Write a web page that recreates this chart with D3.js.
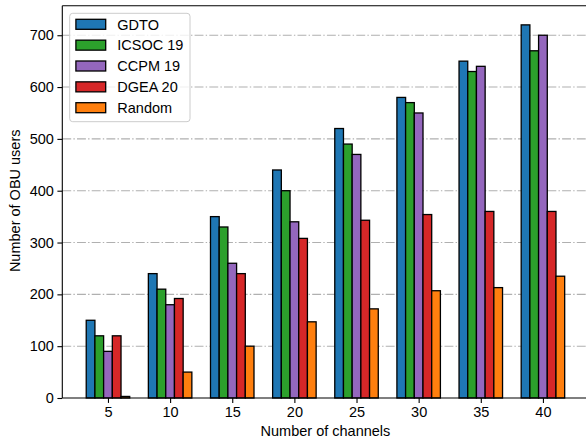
<!DOCTYPE html>
<html><head><meta charset="utf-8">
<script src="https://cdn.jsdelivr.net/npm/d3@7/dist/d3.min.js"></script>
<style>body{margin:0;background:#fff}svg{display:block}text{font-family:"Liberation Sans",Arial,sans-serif;fill:#000}</style>
</head><body>
<script>
const categories = ["5","10","15","20","25","30","35","40"];
const seriesNames = ["GDTO","ICSOC 19","CCPM 19","DGEA 20","Random"];
const gdto   = [150,240,350,440,520,580,650,720];
const icsoc19= [120,210,330,400,490,570,630,670];
const ccpm19 = [90,180,260,340,470,550,640,700];
const dgea20 = [120,192,240,308,343,354,360,360];
const random = [3,50,100,147,172,207,213,235];
const yTicks = [0,100,200,300,400,500,600,700];
const colors = ["#1f77b4","#2ca02c","#9467bd","#d62728","#ff7f0e"];
const series = [gdto,icsoc19,ccpm19,dgea20,random];

const W=586,H=446;
const L=62.3,R=588.6,T=5.7,B=398;
const svg=d3.select("body").append("svg").attr("width",W).attr("height",H);
const bw=0.14;
const x=d3.scaleLinear().domain([-0.735,7.735]).range([L,R]);
const y=d3.scaleLinear().domain([0,757]).range([B,T]);
const fs=14.5;

// grid
svg.append("g").selectAll("line").data(yTicks.filter(d=>d>0)).join("line")
 .attr("x1",L).attr("x2",R).attr("y1",d=>y(d)).attr("y2",d=>y(d))
 .attr("stroke","#b0b0b0").attr("stroke-width",1.1).attr("stroke-dasharray","8.9,2.2,1.4,2.2");

// bars
series.forEach((vals,k)=>{
  svg.append("g").selectAll("rect").data(vals).join("rect")
   .attr("x",(d,i)=>x(i+(k-2)*bw-bw/2))
   .attr("width",x(bw)-x(0))
   .attr("y",d=>y(d)).attr("height",d=>y(0)-y(d))
   .attr("fill",colors[k]).attr("stroke","#000").attr("stroke-width",1.3);
});

// spines
const sp=svg.append("g").attr("stroke","#000").attr("stroke-width",1.1);
sp.append("line").attr("x1",L).attr("x2",L).attr("y1",T).attr("y2",B);
sp.append("line").attr("x1",L).attr("x2",R).attr("y1",B).attr("y2",B);
sp.append("line").attr("x1",L).attr("x2",R).attr("y1",T).attr("y2",T);
sp.append("line").attr("x1",R).attr("x2",R).attr("y1",T).attr("y2",B);

// axes
const xa=d3.axisBottom(x).tickValues(d3.range(categories.length)).tickFormat(i=>categories[i]).tickSize(4.9).tickPadding(3.5);
const gx=svg.append("g").attr("transform",`translate(0,${B})`).call(xa);
gx.select(".domain").remove();
gx.selectAll("text").attr("font-size",fs).style("font-family","Liberation Sans,Arial,sans-serif");
gx.selectAll("line").attr("stroke-width",1.1);
const ya=d3.axisLeft(y).tickValues(yTicks).tickSize(4.9).tickPadding(3.5);
const gy=svg.append("g").attr("transform",`translate(${L},0)`).call(ya);
gy.select(".domain").remove();
gy.selectAll("text").attr("font-size",fs).style("font-family","Liberation Sans,Arial,sans-serif");
gy.selectAll("line").attr("stroke-width",1.1);

// axis labels
svg.append("text").attr("x",(L+R)/2).attr("y",435.8).attr("text-anchor","middle").attr("font-size",fs).text("Number of channels");
svg.append("text").attr("transform",`translate(20.3,200.8) rotate(-90)`).attr("text-anchor","middle").attr("font-size",fs).text("Number of OBU users");

// legend
const lg=svg.append("g");
lg.append("rect").attr("x",69.7).attr("y",13.3).attr("width",120.3).attr("height",108.4).attr("rx",3)
 .attr("fill","#fff").attr("fill-opacity",0.8).attr("stroke","#cccccc").attr("stroke-width",1);
seriesNames.forEach((n,k)=>{
  const cy=24.3+k*20.85;
  lg.append("rect").attr("x",75.9).attr("y",cy-5).attr("width",29.8).attr("height",10)
    .attr("fill",colors[k]).attr("stroke","#000").attr("stroke-width",1.3);
  lg.append("text").attr("x",117.3).attr("y",cy+5.2).attr("font-size",fs).text(n);
});
</script>
</body></html>
